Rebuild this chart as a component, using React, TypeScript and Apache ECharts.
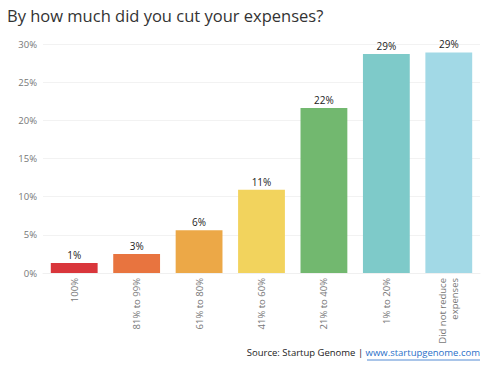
import React, { useEffect, useRef } from "react";
import * as echarts from "echarts";

const categories = ["100%", "81% to 99%", "61% to 80%", "41% to 60%", "21% to 40%", "1% to 20%", "Did not reduce\nexpenses"];
const values = [1.3, 2.5, 5.6, 10.9, 21.6, 28.7, 28.9];
const valueLabels = ["1%", "3%", "6%", "11%", "22%", "29%", "29%"];
const colors = ["#d9363b", "#e8743f", "#eca847", "#f2d35d", "#72b86f", "#7ecac9", "#a2d9e6"];
const yTicks = [0, 5, 10, 15, 20, 25, 30];

export default function App() {
  const ref = useRef<HTMLDivElement>(null);
  useEffect(() => {
    if (!ref.current) return;
    const chart = echarts.init(ref.current, null, { renderer: "svg" });
    chart.setOption({
      animation: false,
      textStyle: { fontFamily: "Open Sans" },
      title: {
        text: "By how much did you cut your expenses?",
        left: 2,
        top: 2,
        textStyle: { fontFamily: "Open Sans", fontSize: 16.5, fontWeight: "normal", color: "#333" },
      },
      grid: { left: 43, right: 12, top: 44, bottom: 102 },
      xAxis: {
        type: "category",
        data: categories,
        axisTick: { show: false },
        axisLine: { show: true, lineStyle: { color: "#f0f0f0" } },
        axisLabel: { rotate: 90, color: "#777", fontSize: 9.5, margin: 5, lineHeight: 12, interval: 0 },
      },
      yAxis: {
        type: "value",
        min: 0,
        max: 30,
        interval: 5,
        axisLabel: {
          color: "#777",
          fontSize: 9.5,
          margin: 6,
          formatter: (v: number) => (yTicks.includes(v) ? v + "%" : ""),
        },
        splitLine: { lineStyle: { color: "#f2f2f2" } },
        axisLine: { show: false },
        axisTick: { show: false },
      },
      series: [
        {
          type: "bar",
          data: values.map((v, i) => ({ value: v, itemStyle: { color: colors[i] } })),
          barCategoryGap: "25%",
          label: {
            show: true,
            position: "top",
            distance: 3,
            color: "#222",
            fontSize: 10,
            formatter: (p: any) => valueLabels[p.dataIndex],
          },
        },
      ],
      graphic: [
        {
          type: "text",
          right: 12,
          top: 347,
          style: {
            text: "{a|Source: Startup Genome | }{b|www.startupgenome.com}",
            rich: {
              a: { fontFamily: "Open Sans", fontSize: 9.5, fill: "#222" },
              b: { fontFamily: "Open Sans", fontSize: 9.5, fill: "#2a6fc9" },
            },
          },
        },
        {
          type: "line",
          shape: { x1: 367, y1: 360, x2: 480, y2: 360 },
          style: { stroke: "#2a6fc9", lineWidth: 0.8 },
        },
      ],
    });
    return () => chart.dispose();
  }, []);
  return <div ref={ref} style={{ width: 492, height: 375, margin: -8 }} />;
}
